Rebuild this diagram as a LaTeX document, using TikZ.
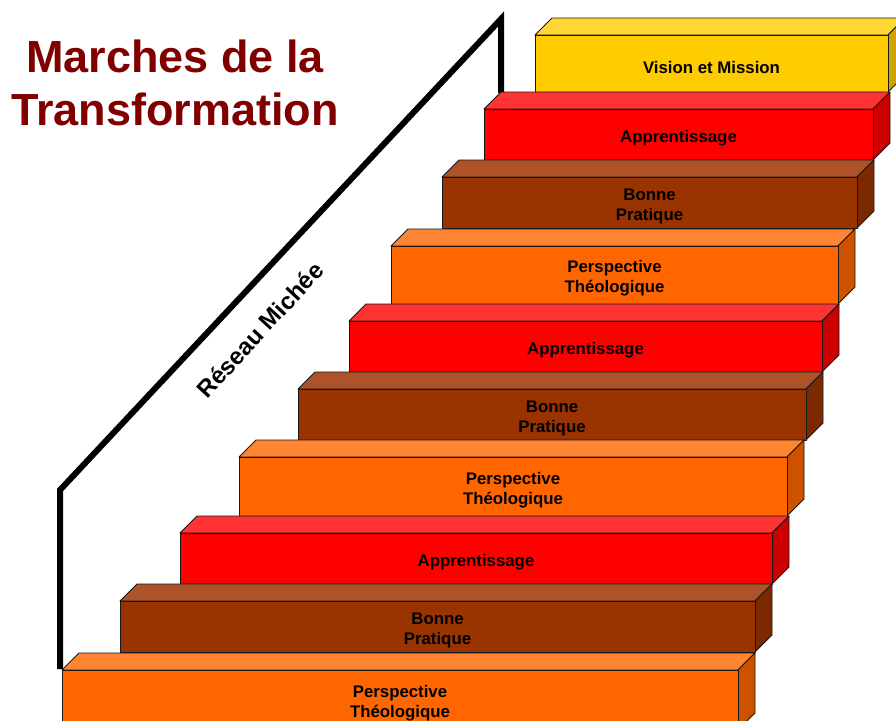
\documentclass[tikz,border=0pt]{standalone}
\usepackage{fontspec}
\setmainfont{Liberation Sans}
\definecolor{titleRed}{HTML}{800000}
\definecolor{ylwF}{HTML}{FFCC00}\definecolor{ylwT}{HTML}{FFD633}\definecolor{ylwS}{HTML}{CCA300}
\definecolor{redF}{HTML}{FF0000}\definecolor{redT}{HTML}{FF3333}\definecolor{redS}{HTML}{CC0000}
\definecolor{brnF}{HTML}{993300}\definecolor{brnT}{HTML}{AD5229}\definecolor{brnS}{HTML}{7A2900}
\definecolor{orgF}{HTML}{FF6600}\definecolor{orgT}{HTML}{FF8533}\definecolor{orgS}{HTML}{CC5200}
\tikzset{
  face/.style={draw=black!90, line width=0.9pt, line join=round},
  lbl/.style={font=\bfseries\fontsize{16.8}{20}\selectfont, align=center, text=black, inner sep=0pt},
  titletext/.style={font=\bfseries\fontsize{45}{53}\selectfont, text=titleRed, anchor=base, inner sep=0pt},
  rail/.style={line width=6pt, black, line join=miter},
  raillabel/.style={font=\bfseries\fontsize{24}{28}\selectfont, text=black, inner sep=0pt},
}
% #1 name, #2 x1, #3 x2, #4 ytop, #5 ybot, #6 colour prefix, #7 text
\newcommand\stepblk[7]{%
  \filldraw[face, fill=#6T] (#2,#4) -- (#2+17,#4-17) -- (#3+17,#4-17) -- (#3,#4) -- cycle;
  \filldraw[face, fill=#6S] (#3,#4) -- (#3+17,#4-17) -- (#3+17,#5-17) -- (#3,#5) -- cycle;
  \filldraw[face, fill=#6F] (#2,#4) rectangle (#3,#5);
  \node[lbl] (#1) at ({(#2+#3)/2},{(#4+#5)/2+3.5}) {#7};
}
\begin{document}
\begin{tikzpicture}[x=1pt,y=-1pt]
\useasboundingbox (0,0) rectangle (896,720);
\clip (0,0) rectangle (896,720);
\fill[white] (0,0) rectangle (896,720);
% title
\node[titletext] (t1) at (175,72) {Marches de la};
\node[titletext] (t2) at (175,125) {Transformation};
% rail
\coordinate (railA) at (60,669);
\coordinate (railB) at (60,490);
\coordinate (railC) at (501,19);
\coordinate (railD) at (501,93);
\draw[rail] (railA) -- (railB) -- (railC) -- (railD);
\node[raillabel, rotate=47.4] (rl) at (260,330) {Réseau Michée};
% steps, back to front
\stepblk{s1}{535}{888}{35}{92}{ylw}{Vision et Mission}
\stepblk{s2}{484}{873}{109}{160}{red}{Apprentissage}
\stepblk{s3}{442}{857}{177}{228}{brn}{Bonne\\Pratique}
\stepblk{s4}{391}{838}{246}{304}{org}{Perspective\\Théologique}
\stepblk{s5}{349}{822}{321}{372}{red}{Apprentissage}
\stepblk{s6}{298}{806}{389}{440}{brn}{Bonne\\Pratique}
\stepblk{s7}{239}{787}{457}{516}{org}{Perspective\\Théologique}
\stepblk{s8}{180}{772}{533}{584}{red}{Apprentissage}
\stepblk{s9}{120}{755}{601}{652}{brn}{Bonne\\Pratique}
\stepblk{s10}{62}{738}{670}{730}{org}{Perspective\\Théologique}
\end{tikzpicture}
\end{document}
